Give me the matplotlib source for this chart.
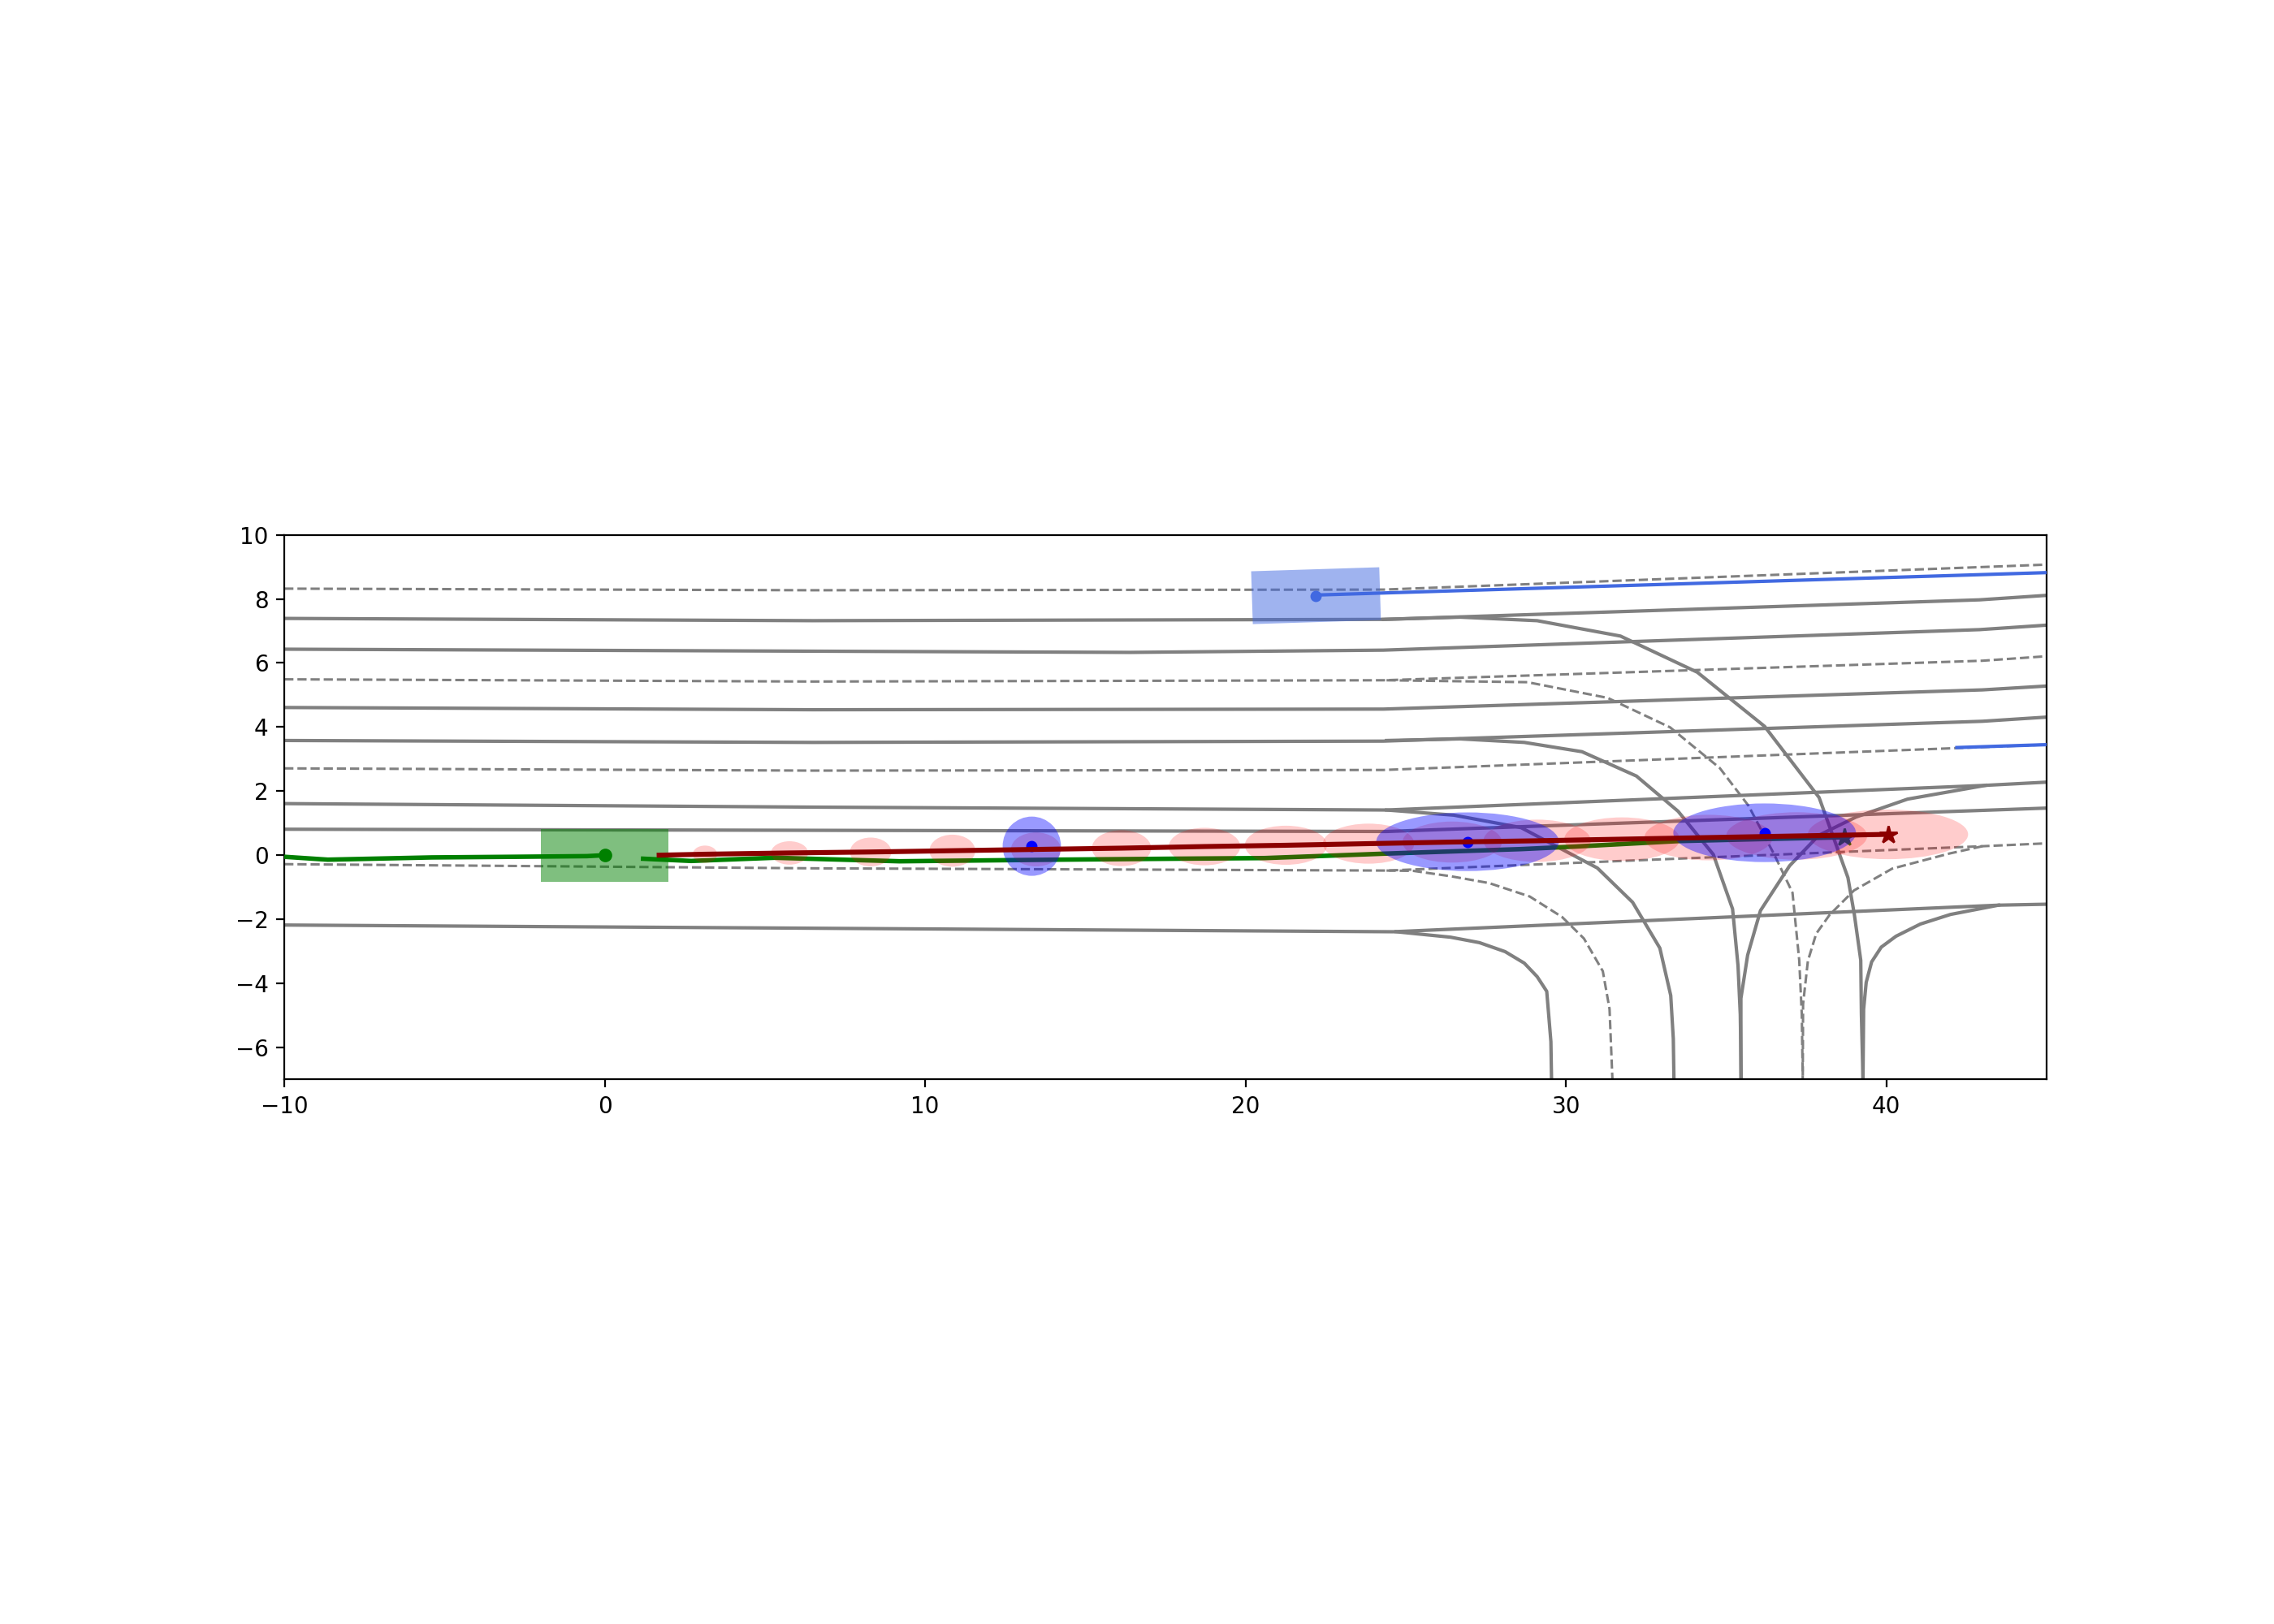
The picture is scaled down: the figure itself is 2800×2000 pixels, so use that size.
import matplotlib
matplotlib.use("Agg")
import matplotlib.pyplot as plt
from matplotlib.patches import Ellipse, Rectangle

# ---------------- map: lane boundaries (solid) ----------------
solid_lanes = [
    ([-10, 6.5, 24.3, 42.9, 45], [7.39, 7.32, 7.36, 7.97, 8.11]),
    ([-10, 16.4, 24.3, 42.9, 45], [6.43, 6.33, 6.40, 7.04, 7.18]),
    ([-10, 6.5, 24.3, 43.0, 45], [4.61, 4.54, 4.56, 5.16, 5.28]),
    ([-10, 6.5, 24.3, 43.0, 45], [3.58, 3.52, 3.56, 4.18, 4.31]),
    ([-10, 6.5, 24.4, 43.1, 45], [1.61, 1.50, 1.41, 2.18, 2.28]),
    ([-10, 24.4, 45], [0.81, 0.74, 1.47]),
    ([-10, 24.6, 43.5, 45], [-2.18, -2.39, -1.56, -1.53]),
    # turning curves
    ([24.3, 26.7, 29.1, 31.7, 34.1, 36.2, 37.9, 38.8, 39.0, 39.2, 39.22, 39.27],
     [7.36, 7.43, 7.32, 6.84, 5.71, 4.02, 1.80, -0.70, -1.85, -3.28, -4.97, -7.0]),
    ([24.4, 26.7, 28.7, 30.5, 32.2, 33.5, 34.6, 35.2, 35.37, 35.44, 35.47],
     [3.58, 3.63, 3.52, 3.23, 2.47, 1.37, 0.02, -1.68, -3.45, -4.97, -7.0]),
    ([24.4, 26.5, 28.6, 30.98, 32.08, 32.93, 33.27, 33.35, 33.37],
     [1.41, 1.25, 0.86, -0.40, -1.47, -2.90, -4.38, -5.73, -7.0]),
    ([24.7, 26.4, 27.3, 28.1, 28.7, 29.1, 29.4, 29.46, 29.53, 29.55],
     [-2.39, -2.56, -2.73, -3.01, -3.37, -3.79, -4.25, -4.97, -5.82, -7.0]),
    ([43.1, 40.66, 39.05, 37.89, 36.98, 36.07, 35.67, 35.46, 35.46],
     [2.18, 1.75, 1.19, 0.62, -0.33, -1.73, -3.12, -4.47, -7.0]),
    ([43.5, 42.0, 41.06, 40.3, 39.84, 39.54, 39.37, 39.29, 39.27],
     [-1.56, -1.85, -2.15, -2.53, -2.87, -3.33, -3.97, -4.81, -7.0]),
]

# ---------------- map: lane centre lines (dashed) ----------------
dashed_lanes = [
    ([-10, 6.5, 24.3, 45], [8.32, 8.27, 8.29, 9.07]),
    ([-10, 6.5, 24.3, 43.0, 45], [5.49, 5.42, 5.46, 6.07, 6.21]),
    ([-10, 6.5, 24.3, 45], [2.71, 2.64, 2.66, 3.45]),
    ([-10, 6.5, 24.4, 43.0, 45], [-0.28, -0.41, -0.48, 0.28, 0.37]),
    # turning curves
    ([24.4, 28.8, 31.3, 33.25, 34.8, 35.7, 36.5, 37.07, 37.28, 37.36, 37.39],
     [5.46, 5.40, 4.91, 3.99, 2.72, 1.54, 0.02, -1.17, -3.28, -4.97, -7.0]),
    ([24.4, 25.24, 26.42, 27.6, 28.87, 29.88, 30.56, 31.15, 31.36, 31.45],
     [-0.48, -0.49, -0.66, -0.87, -1.29, -1.93, -2.60, -3.62, -4.80, -7.0]),
    ([43.0, 41.96, 40.18, 38.99, 38.23, 37.81, 37.55, 37.40, 37.39],
     [0.28, 0.05, -0.42, -1.10, -1.86, -2.45, -3.30, -4.65, -7.0]),
]

# ---------------- ego vehicle ----------------
ego_center = (0.0, 0.0)
ego_length = 4.0
ego_width = 1.65
ego_hist_x = [-10.0, -8.64, -5.40, -2.81, -0.55, 0.0]
ego_hist_y = [-0.05, -0.14, -0.07, -0.05, -0.03, 0.0]

# ground-truth future (green)
gt_x = [1.2, 2.7, 5.3, 9.2, 14.1, 17.8, 20.6, 24.4, 28.6, 30.3, 33.5, 36.0, 38.7]
gt_y = [-0.11, -0.18, -0.08, -0.19, -0.14, -0.11, -0.09, 0.05, 0.19, 0.27, 0.44, 0.50, 0.56]

# predicted future (dark red) and its uncertainty ellipses
pred_x = [1.7, 3.13, 5.77, 8.30, 10.85, 13.46, 16.13, 18.72, 21.26, 23.84,
          26.45, 29.10, 31.75, 34.45, 37.20, 40.05]
pred_y = [0.0, 0.03, 0.07, 0.10, 0.14, 0.18, 0.22, 0.27, 0.31, 0.36,
          0.41, 0.45, 0.50, 0.55, 0.60, 0.65]
unc_w = [0.76, 1.16, 1.29, 1.43, 1.56, 1.85, 2.23, 2.56, 2.85,
         3.10, 3.35, 3.60, 4.00, 4.40, 5.00]
unc_h = [0.54, 0.73, 0.90, 1.00, 1.06, 1.12, 1.17, 1.22, 1.25,
         1.28, 1.32, 1.36, 1.42, 1.48, 1.55]

# blue key-point ellipses
key_x = [13.33, 26.93, 36.20]
key_y = [0.28, 0.42, 0.70]
key_w = [1.82, 5.70, 5.70]
key_h = [1.85, 1.83, 1.83]

# other agent (royal blue)
agent_center = (22.2, 8.1)
agent_length = 4.0
agent_width = 1.65
agent_heading_deg = 1.8
agent_fut_x = [22.2, 45.0]
agent_fut_y = [8.12, 8.82]
agent2_x = [42.2, 45.0]
agent2_y = [3.36, 3.45]

fig, ax = plt.subplots(figsize=(14, 10), dpi=200)
fig.subplots_adjust(bottom=0.106, top=0.9)

for xs, ys in solid_lanes:
    ax.plot(xs, ys, color="gray", lw=1.5, zorder=1)
for xs, ys in dashed_lanes:
    ax.plot(xs, ys, color="gray", lw=1.1, ls="--", zorder=1)

# other agents
ax.add_patch(Rectangle((agent_center[0] - agent_length / 2, agent_center[1] - agent_width / 2),
                       agent_length, agent_width, angle=agent_heading_deg,
                       rotation_point="center", facecolor="royalblue", alpha=0.5,
                       edgecolor="none", zorder=2))
ax.plot(agent_fut_x, agent_fut_y, color="royalblue", lw=1.5, zorder=3)
ax.plot(agent_center[0], agent_center[1], "o", color="royalblue", ms=4, zorder=3)
ax.plot(agent2_x, agent2_y, color="royalblue", lw=1.5, zorder=3)

# ego
ax.add_patch(Rectangle((ego_center[0] - ego_length / 2, ego_center[1] - ego_width / 2),
                       ego_length, ego_width, facecolor="green", alpha=0.5,
                       edgecolor="none", zorder=2))
ax.plot(ego_hist_x, ego_hist_y, color="green", lw=2, zorder=3)
ax.plot(ego_center[0], ego_center[1], "o", color="green", ms=5, zorder=3)

# ground truth
ax.plot(gt_x, gt_y, color="green", lw=2, zorder=3)
ax.plot(gt_x[-1], gt_y[-1], "*", color="green", ms=8, zorder=3)

# uncertainty ellipses
for cx, cy, w, h in zip(pred_x[1:], pred_y[1:], unc_w, unc_h):
    ax.add_patch(Ellipse((cx, cy), w, h, facecolor="red", alpha=0.2,
                         edgecolor="none", zorder=4))
for cx, cy, w, h in zip(key_x, key_y, key_w, key_h):
    ax.add_patch(Ellipse((cx, cy), w, h, facecolor="blue", alpha=0.4,
                         edgecolor="none", zorder=5))
ax.plot(key_x, key_y, "o", color="blue", ms=4, ls="none", zorder=6)

# prediction
ax.plot(pred_x, pred_y, color="darkred", lw=2.2, zorder=7)
ax.plot(pred_x[-1], pred_y[-1], "*", color="darkred", ms=8, zorder=7)

ax.set_xlim(-10, 45)
ax.set_ylim(-7, 10)
ax.set_aspect("equal")

fig.savefig("out.png", dpi=200)
